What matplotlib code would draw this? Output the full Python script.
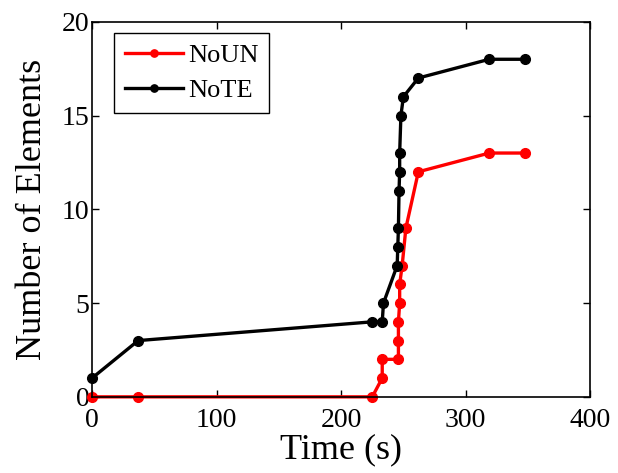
import numpy as np
import matplotlib.pyplot as plt

plt.rcParams['font.family'] = ['Liberation Serif', 'DejaVu Serif']
plt.rcParams['mathtext.fontset'] = 'stix'

# NoUN (red)
t_noun = [0, 37, 225, 233, 233, 246, 246, 246, 247, 247, 249, 252, 262, 319, 348]
n_noun = [0, 0, 0, 1, 2, 2, 3, 4, 5, 6, 7, 9, 12, 13, 13]

# NoTE (black)
t_note = [0, 37, 225, 233, 234, 245, 245.5, 246, 246.5, 247, 247, 248, 250, 262, 319, 348]
n_note = [1, 3, 4, 4, 5, 7, 8, 9, 11, 12, 13, 15, 16, 17, 18, 18]

fig = plt.figure(figsize=(6.18, 4.73), dpi=100)
ax = fig.add_axes([0.149, 0.161, 0.806, 0.793])

ax.plot(t_noun, n_noun, color='red', linewidth=2.4, marker='o', markersize=7, label='NoUN', clip_on=False)
ax.plot(t_note, n_note, color='black', linewidth=2.4, marker='o', markersize=7, label='NoTE', clip_on=False)

ax.set_xlim(0, 400)
ax.set_ylim(0, 20)
ax.set_xticks([0, 100, 200, 300, 400])
ax.set_yticks([0, 5, 10, 15, 20])
ax.tick_params(direction='in', top=True, right=True, labelsize=20, length=5, width=1, pad=2)
ax.tick_params(axis='x', pad=8)
for s in ax.spines.values():
    s.set_linewidth(1.2)

ax.set_xlabel('Time (s)', fontsize=26, labelpad=0)
ax.set_ylabel('Number of Elements', fontsize=26, labelpad=9)

leg = ax.legend(loc='upper left', fontsize=19, handlelength=2.2, fancybox=False,
                edgecolor='black', framealpha=1, borderpad=0.4, labelspacing=0.45,
                handletextpad=0.2, borderaxespad=0, markerscale=0.75,
                bbox_to_anchor=(0.044, 0.97))
leg.get_frame().set_linewidth(1.0)

fig.savefig('out.png', dpi=100)
